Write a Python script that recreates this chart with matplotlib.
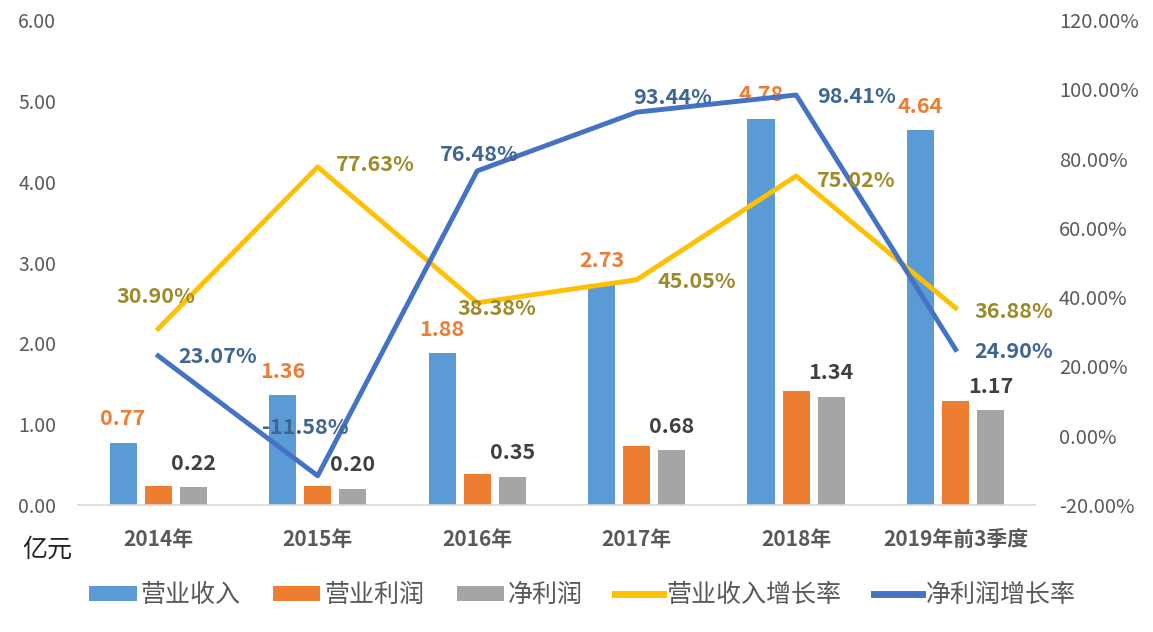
import matplotlib.pyplot as plt
import numpy as np

plt.rcParams['font.family'] = ['Noto Sans CJK SC', 'DejaVu Sans']

# 数据
years = ['2014年', '2015年', '2016年', '2017年', '2018年', '2019年前3季度']
revenue = [0.77, 1.36, 1.88, 2.73, 4.78, 4.64]
op_profit = [0.24, 0.24, 0.38, 0.73, 1.41, 1.29]
net_profit = [0.22, 0.20, 0.35, 0.68, 1.34, 1.17]
rev_growth = [30.90, 77.63, 38.38, 45.05, 75.02, 36.88]
np_growth = [23.07, -11.58, 76.48, 93.44, 98.41, 24.90]

# 增长率标签的偏移 (像素, 文字中心)
rev_off = [(-2, 32), (58, 2), (20, -6), (60, -2), (60, -5), (58, -3)]
np_off = [(60, -1), (-12, 48), (2, 16), (36, 15), (60, -2), (58, -2)]

c_blue = '#5B9BD5'
c_orange = '#ED7D31'
c_gray = '#A5A5A5'
c_yellow = '#FFC000'
c_line = '#4472C4'
c_tick = '#595959'

fig = plt.figure(figsize=(11.53, 6.32), dpi=100)
ax = fig.add_axes([0.068, 0.201, 0.83, 0.767])
ax2 = ax.twinx()

x = np.arange(len(years))
w = 0.17
d = 0.22
px = 72 / 100.0  # 像素 -> 点

b1 = ax.bar(x - d, revenue, w, color=c_blue)
b2 = ax.bar(x, op_profit, w, color=c_orange)
b3 = ax.bar(x + d, net_profit, w, color=c_gray)

for i in range(len(x)):
    ax.annotate('%.2f' % revenue[i], (x[i] - d, revenue[i]), xytext=(0, 24 * px),
                textcoords='offset points', ha='center', va='center',
                color=c_orange, fontsize=15.5, fontweight='bold')
    ax.annotate('%.2f' % net_profit[i], (x[i] + d, net_profit[i]), xytext=(0, 24 * px),
                textcoords='offset points', ha='center', va='center',
                color='#404040', fontsize=15.5, fontweight='bold')

l1, = ax2.plot(x, rev_growth, color=c_yellow, lw=3.5)
l2, = ax2.plot(x, np_growth, color=c_line, lw=3.5)

for i in range(len(x)):
    ax2.annotate('%.2f%%' % rev_growth[i], (x[i], rev_growth[i]),
                 xytext=(rev_off[i][0] * px, rev_off[i][1] * px),
                 textcoords='offset points', ha='center', va='center',
                 color='#9C8A2B', fontsize=15.5, fontweight='bold')
    ax2.annotate('%.2f%%' % np_growth[i], (x[i], np_growth[i]),
                 xytext=(np_off[i][0] * px, np_off[i][1] * px),
                 textcoords='offset points', ha='center', va='center',
                 color='#3F6592', fontsize=15.5, fontweight='bold')

ax.set_xlim(-0.5, len(x) - 0.5)
ax.set_ylim(0, 6)
ax.set_yticks(np.arange(0, 7, 1))
ax.set_yticklabels(['%.2f' % v for v in np.arange(0, 7, 1)])
ax2.set_ylim(-20, 120)
ax2.set_yticks(np.arange(-20, 121, 20))
ax2.set_yticklabels(['%.2f%%' % v for v in np.arange(-20, 121, 20)])

ax.set_xticks(x)
ax.set_xticklabels(years)

for a in (ax, ax2):
    for s in a.spines.values():
        s.set_visible(False)
ax.spines['bottom'].set_visible(True)
ax.spines['bottom'].set_color('#D9D9D9')
ax.spines['bottom'].set_linewidth(1.2)

ax.tick_params(axis='y', length=0, pad=16, labelsize=14, labelcolor=c_tick)
ax.tick_params(axis='x', length=0, pad=17, labelsize=15, labelcolor=c_tick)
ax2.tick_params(axis='y', length=0, pad=17, labelsize=14.5, labelcolor=c_tick)
for t in ax.get_xticklabels():
    t.set_fontweight('bold')

fig.text(0.019, 0.13, '亿元', fontsize=18, color='#222222', va='center')

fig.legend([b1, b2, b3, l1, l2], ['营业收入', '营业利润', '净利润', '营业收入增长率', '净利润增长率'],
           loc='center', bbox_to_anchor=(0.505, 0.058), ncol=5, frameon=False,
           fontsize=18, handlelength=1.9, handleheight=0.5, columnspacing=1.3,
           handletextpad=0.15, labelcolor=c_tick)
for h in fig.legends[0].get_lines():
    h.set_linewidth(5)

plt.savefig('out.png', dpi=100)
